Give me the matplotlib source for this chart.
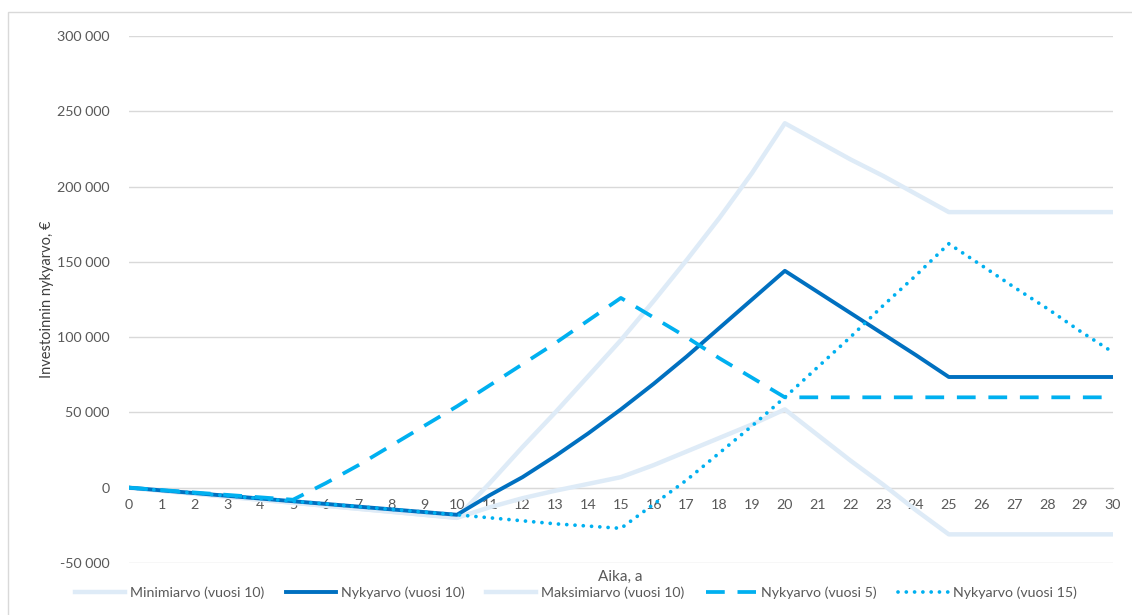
import numpy as np
import matplotlib.pyplot as plt
from matplotlib.patches import Rectangle
from matplotlib.ticker import FuncFormatter

plt.rcParams['font.family'] = ['Lato', 'DejaVu Sans']

# vuodet 0..30, arvot tuhansina euroina
years = np.arange(0, 31)

minimi_10 = [0, -2, -4, -6, -8, -10, -12, -14, -16, -18, -20,
             -13, -7, -2, 2.5, 7, 15, 24, 33, 42, 52,
             35, 18, 2, -15, -31, -31, -31, -31, -31, -31]
nyky_10 = [0, -1.8, -3.6, -5.4, -7.2, -9, -10.8, -12.6, -14.4, -16.2, -18,
           -5, 7, 21, 36, 52, 69, 87, 106, 125, 144,
           130, 116, 102, 88, 73.5, 73.5, 73.5, 73.5, 73.5, 73.5]
maksimi_10 = [0, -2, -4, -6, -8, -10, -12, -14, -16, -18, -20,
              3, 27, 50, 74, 98, 124, 151, 179, 209, 242,
              230, 218, 207, 195, 183, 183, 183, 183, 183, 183]
nyky_5 = [0, -1.6, -3.2, -4.8, -6.4, -8, 3, 15, 28, 41, 54,
          68, 82, 96, 111, 126, 113, 100, 86, 73, 60,
          60, 60, 60, 60, 60, 60, 60, 60, 60, 60]
nyky_15 = [0, -1.8, -3.6, -5.4, -7.2, -9, -10.8, -12.6, -14.4, -16.2, -18,
           -20, -22, -24, -25.5, -27, -11, 5, 23, 41, 60,
           80, 100, 121, 141, 162, 147.6, 133, 119, 104, 90]

y_ticks = np.arange(-50000, 300001, 50000)

LIGHT = '#DEEBF7'
DARK = '#0070C0'
CYAN = '#00B0F0'
GRID = '#D9D9D9'
TEXT = '#595959'

fig = plt.figure(figsize=(11.32, 6.15), dpi=100)
ax = fig.add_axes([0.114, 0.0846, 0.869, 0.857])

# ohut kehys kaavion ympärillä
fig.patches.append(Rectangle((8 / 1132, -0.05), 1.1, 0.05 + 1 - 12 / 615,
                             transform=fig.transFigure, fill=False,
                             edgecolor=GRID, lw=1))

k = 1000
ax.plot(years, np.array(minimi_10) * k, color=LIGHT, lw=3.2, label='Minimiarvo (vuosi 10)', zorder=3)
ax.plot(years, np.array(nyky_10) * k, color=DARK, lw=2.8, label='Nykyarvo (vuosi 10)', zorder=4)
ax.plot(years, np.array(maksimi_10) * k, color=LIGHT, lw=3.2, label='Maksimiarvo (vuosi 10)', zorder=3)
ax.plot(years, np.array(nyky_5) * k, color=CYAN, lw=2.7, linestyle=(0, (5.0, 3.4)),
        label='Nykyarvo (vuosi 5)', zorder=5)
ax.plot(years, np.array(nyky_15) * k, color=CYAN, lw=2.7, linestyle=(0, (0.01, 2.2)),
        dash_capstyle='round', label='Nykyarvo (vuosi 15)', zorder=5)

ax.set_xlim(0, 30)
ax.set_ylim(-50000, 300000)
ax.set_yticks(y_ticks)
ax.yaxis.set_major_formatter(FuncFormatter(lambda v, p: f'{int(v):,}'.replace(',', ' ')))
ax.set_xticks(years)

ax.grid(axis='y', color=GRID, lw=1)
ax.set_axisbelow(True)
for s in ['top', 'right', 'left']:
    ax.spines[s].set_visible(False)
ax.spines['bottom'].set_position(('data', 0))
ax.spines['bottom'].set_color(GRID)
ax.tick_params(axis='both', length=0, colors=TEXT, labelsize=10.3)
ax.tick_params(axis='x', pad=8)
ax.tick_params(axis='y', pad=14)

ax.set_ylabel('Investoinnin nykyarvo, €', color='#404040', fontsize=10.5, labelpad=2)
fig.text(0.548, 1 - 577 / 615, 'Aika, a', color=TEXT, fontsize=11, ha='center', va='center')

ax.legend(loc='center', bbox_to_anchor=(0.509, 1 - 593 / 615), bbox_transform=fig.transFigure,
          ncol=5, frameon=False, fontsize=10.2, labelcolor=TEXT, handlelength=3.5,
          handletextpad=0.4, columnspacing=1.5)

fig.savefig('out.png', dpi=100)
